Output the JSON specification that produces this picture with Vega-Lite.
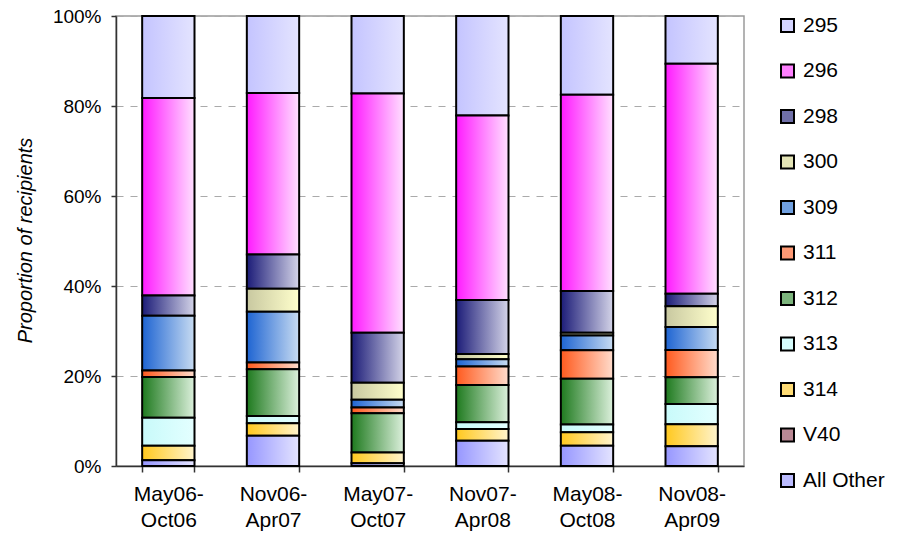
{
  "$schema": "https://vega.github.io/schema/vega-lite/v6.json",
  "width": 628,
  "height": 450,
  "autosize": {"type": "none"},
  "padding": {"left": 116, "top": 16, "right": 157, "bottom": 74},
  "background": "white",
  "config": {"view": {"stroke": "#9a9a9a", "strokeWidth": 1.5}, "font": "Liberation Sans"},
  "data": {"values": [
    {"period": "May06-Oct06", "series": "295", "share": 18.2},
    {"period": "May06-Oct06", "series": "296", "share": 43.9},
    {"period": "May06-Oct06", "series": "298", "share": 4.5},
    {"period": "May06-Oct06", "series": "309", "share": 12.2},
    {"period": "May06-Oct06", "series": "311", "share": 1.4},
    {"period": "May06-Oct06", "series": "312", "share": 9.1},
    {"period": "May06-Oct06", "series": "313", "share": 6.2},
    {"period": "May06-Oct06", "series": "314", "share": 3.2},
    {"period": "May06-Oct06", "series": "All Other", "share": 1.3},
    {"period": "Nov06-Apr07", "series": "295", "share": 17.1},
    {"period": "Nov06-Apr07", "series": "296", "share": 35.9},
    {"period": "Nov06-Apr07", "series": "298", "share": 7.6},
    {"period": "Nov06-Apr07", "series": "300", "share": 5.1},
    {"period": "Nov06-Apr07", "series": "309", "share": 11.3},
    {"period": "Nov06-Apr07", "series": "311", "share": 1.5},
    {"period": "Nov06-Apr07", "series": "312", "share": 10.4},
    {"period": "Nov06-Apr07", "series": "313", "share": 1.6},
    {"period": "Nov06-Apr07", "series": "314", "share": 2.8},
    {"period": "Nov06-Apr07", "series": "All Other", "share": 6.7},
    {"period": "May07-Oct07", "series": "295", "share": 17.2},
    {"period": "May07-Oct07", "series": "296", "share": 53.2},
    {"period": "May07-Oct07", "series": "298", "share": 11.1},
    {"period": "May07-Oct07", "series": "300", "share": 3.8},
    {"period": "May07-Oct07", "series": "309", "share": 1.7},
    {"period": "May07-Oct07", "series": "311", "share": 1.3},
    {"period": "May07-Oct07", "series": "312", "share": 8.7},
    {"period": "May07-Oct07", "series": "314", "share": 2.4},
    {"period": "May07-Oct07", "series": "All Other", "share": 0.6},
    {"period": "Nov07-Apr08", "series": "295", "share": 22.1},
    {"period": "Nov07-Apr08", "series": "296", "share": 41.0},
    {"period": "Nov07-Apr08", "series": "298", "share": 12.0},
    {"period": "Nov07-Apr08", "series": "300", "share": 1.2},
    {"period": "Nov07-Apr08", "series": "309", "share": 1.6},
    {"period": "Nov07-Apr08", "series": "311", "share": 4.1},
    {"period": "Nov07-Apr08", "series": "312", "share": 8.3},
    {"period": "Nov07-Apr08", "series": "313", "share": 1.5},
    {"period": "Nov07-Apr08", "series": "314", "share": 2.6},
    {"period": "Nov07-Apr08", "series": "All Other", "share": 5.6},
    {"period": "May08-Oct08", "series": "295", "share": 17.5},
    {"period": "May08-Oct08", "series": "296", "share": 43.6},
    {"period": "May08-Oct08", "series": "298", "share": 9.3},
    {"period": "May08-Oct08", "series": "300", "share": 0.6},
    {"period": "May08-Oct08", "series": "309", "share": 3.3},
    {"period": "May08-Oct08", "series": "311", "share": 6.3},
    {"period": "May08-Oct08", "series": "312", "share": 10.2},
    {"period": "May08-Oct08", "series": "313", "share": 1.7},
    {"period": "May08-Oct08", "series": "314", "share": 3.0},
    {"period": "May08-Oct08", "series": "All Other", "share": 4.5},
    {"period": "Nov08-Apr09", "series": "295", "share": 10.6},
    {"period": "Nov08-Apr09", "series": "296", "share": 51.1},
    {"period": "Nov08-Apr09", "series": "298", "share": 2.8},
    {"period": "Nov08-Apr09", "series": "300", "share": 4.6},
    {"period": "Nov08-Apr09", "series": "309", "share": 5.1},
    {"period": "Nov08-Apr09", "series": "311", "share": 6.1},
    {"period": "Nov08-Apr09", "series": "312", "share": 5.9},
    {"period": "Nov08-Apr09", "series": "313", "share": 4.5},
    {"period": "Nov08-Apr09", "series": "314", "share": 4.9},
    {"period": "Nov08-Apr09", "series": "All Other", "share": 4.4}
  ]},
  "encoding": {
    "x": {
      "field": "period", "type": "nominal", "sort": null,
      "scale": {"paddingInner": 0.5, "paddingOuter": 0.25},
      "axis": {
        "title": null, "labelAngle": 0, "grid": false,
        "labelExpr": "[slice(datum.label,0,6), slice(datum.label,6)]",
        "labelFontSize": 21, "labelLineHeight": 26, "labelColor": "black",
        "labelPadding": 11,
        "tickBand": "extent", "tickSize": 6, "tickColor": "#333", "tickWidth": 1.5,
        "domainColor": "#333", "domainWidth": 1.5
      }
    },
    "y": {
      "field": "share", "type": "quantitative", "stack": "zero",
      "scale": {"domain": [0, 100], "nice": false},
      "axis": {
        "title": "Proportion of recipients",
        "titleFontStyle": "italic", "titleFontWeight": "normal", "titleFontSize": 20, "titleColor": "black",
        "titleX": -91, "titleY": 224, "titleAngle": 270, "titleAlign": "center", "titleBaseline": "middle",
        "values": [0, 20, 40, 60, 80, 100],
        "labelExpr": "datum.value + '%'",
        "labelFontSize": 19, "labelColor": "black", "labelPadding": 10,
        "tickSize": 5, "tickColor": "#333", "tickWidth": 1.5,
        "grid": true, "gridDash": [7, 7], "gridColor": "#aaaaaa", "gridWidth": 1.2,
        "domainColor": "#333", "domainWidth": 1.5
      }
    },
    "order": {"field": "series", "sort": "descending"}
  },
  "layer": [
    {
      "mark": {"type": "bar", "opacity": 0, "stroke": "black", "strokeWidth": 2},
      "encoding": {
        "color": {
          "field": "series", "type": "nominal",
          "scale": {
            "domain": ["295", "296", "298", "300", "309", "311", "312", "313", "314", "V40", "All Other"],
            "range": ["#d4d4ff", "#ff80ff", "#7070a8", "#e4e4b6", "#70a0e0", "#ff9a75", "#7cb47c", "#d6fcfc", "#ffdc75", "#ba8894", "#bcbcff"]
          },
          "legend": {
            "orient": "none", "legendX": 661, "legendY": -1, "title": null,
            "symbolType": "square", "symbolSize": 169, "symbolStrokeColor": "black", "symbolStrokeWidth": 2,
            "symbolOpacity": 1,
            "labelFontSize": 21, "labelColor": "black", "rowPadding": 23.5, "labelOffset": 5, "padding": 0
          }
        }
      }
    },
    {
      "mark": {"type": "bar", "stroke": "black", "strokeWidth": 2},
      "encoding": {
        "fill": {
          "condition": [
            {"test": "datum.series === '295'", "value": {"gradient": "linear", "x1": 0, "y1": 0, "x2": 1, "y2": 0, "stops": [{"offset": 0, "color": "#c4c4ff"}, {"offset": 1, "color": "#e4e4ff"}]}},
            {"test": "datum.series === '296'", "value": {"gradient": "linear", "x1": 0, "y1": 0, "x2": 1, "y2": 0, "stops": [{"offset": 0, "color": "#ff1aff"}, {"offset": 1, "color": "#ffe0ff"}]}},
            {"test": "datum.series === '298'", "value": {"gradient": "linear", "x1": 0, "y1": 0, "x2": 1, "y2": 0, "stops": [{"offset": 0, "color": "#1c1c78"}, {"offset": 1, "color": "#d4d4e8"}]}},
            {"test": "datum.series === '300'", "value": {"gradient": "linear", "x1": 0, "y1": 0, "x2": 1, "y2": 0, "stops": [{"offset": 0, "color": "#c8c8a0"}, {"offset": 1, "color": "#ffffcc"}]}},
            {"test": "datum.series === '309'", "value": {"gradient": "linear", "x1": 0, "y1": 0, "x2": 1, "y2": 0, "stops": [{"offset": 0, "color": "#1e64d2"}, {"offset": 1, "color": "#c8dcf2"}]}},
            {"test": "datum.series === '311'", "value": {"gradient": "linear", "x1": 0, "y1": 0, "x2": 1, "y2": 0, "stops": [{"offset": 0, "color": "#ff5a1e"}, {"offset": 1, "color": "#ffdccc"}]}},
            {"test": "datum.series === '312'", "value": {"gradient": "linear", "x1": 0, "y1": 0, "x2": 1, "y2": 0, "stops": [{"offset": 0, "color": "#1e7a1e"}, {"offset": 1, "color": "#dcf0dc"}]}},
            {"test": "datum.series === '313'", "value": {"gradient": "linear", "x1": 0, "y1": 0, "x2": 1, "y2": 0, "stops": [{"offset": 0, "color": "#c8fafa"}, {"offset": 1, "color": "#e4ffff"}]}},
            {"test": "datum.series === '314'", "value": {"gradient": "linear", "x1": 0, "y1": 0, "x2": 1, "y2": 0, "stops": [{"offset": 0, "color": "#ffc81e"}, {"offset": 1, "color": "#fff4cc"}]}},
            {"test": "datum.series === 'V40'", "value": {"gradient": "linear", "x1": 0, "y1": 0, "x2": 1, "y2": 0, "stops": [{"offset": 0, "color": "#800040"}, {"offset": 1, "color": "#f4dce8"}]}}
          ],
          "value": {"gradient": "linear", "x1": 0, "y1": 0, "x2": 1, "y2": 0, "stops": [{"offset": 0, "color": "#9696ff"}, {"offset": 1, "color": "#e4e4ff"}]}
        }
      }
    }
  ]
}
